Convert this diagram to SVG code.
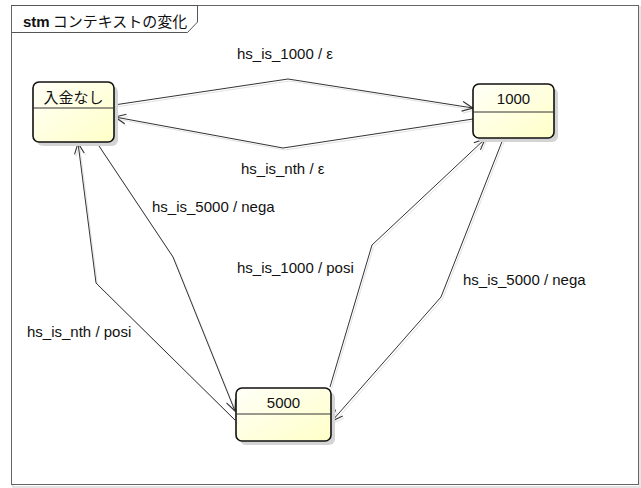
<svg xmlns="http://www.w3.org/2000/svg" width="641" height="488" viewBox="0 0 641 488">
<style>
.lbl{font-family:"Liberation Sans",Arial,sans-serif;font-size:15px;fill:#111}
.ntxt{font-family:"Liberation Sans","Noto Sans CJK JP",sans-serif;font-size:15px;fill:#111;text-anchor:middle}
.box{fill:url(#g);stroke:#111;stroke-width:1.6}
.shadow{fill:#d4d4d4}
.div{stroke:#333;stroke-width:1}
.edge{fill:none;stroke:#333;stroke-width:1}
.eshadow{fill:none;stroke:#e2e2e2;stroke-width:1}
</style>
<defs>
<linearGradient id="g" x1="0" y1="0" x2="1" y2="1">
<stop offset="0" stop-color="#fffff8"/>
<stop offset="1" stop-color="#ffffc8"/>
</linearGradient>
<marker id="arr" markerUnits="userSpaceOnUse" markerWidth="14" markerHeight="14" viewBox="-11 -6 13 12" refX="0" refY="0" orient="auto">
<path d="M-10,-4.5 L0,0 L-10,4.5" fill="none" stroke="#333" stroke-width="1"/>
</marker>
<marker id="arrs" markerUnits="userSpaceOnUse" markerWidth="14" markerHeight="14" viewBox="-11 -6 13 12" refX="0" refY="0" orient="auto">
<path d="M-10,-4.5 L0,0 L-10,4.5" fill="none" stroke="#e2e2e2" stroke-width="1"/>
</marker>
</defs>
<rect x="0" y="0" width="641" height="488" fill="#fff"/>
<g id="frame">
<rect x="13" y="7" width="627" height="480" fill="none" stroke="#ddd" stroke-width="1.5"/>
<rect x="11.5" y="5.5" width="627" height="479" fill="#fff" stroke="#666" stroke-width="1"/>
<path d="M11.5,5.5 H197.5 V22 L187.5,32.5 H11.5" fill="none" stroke="#555" stroke-width="1"/>
<text x="23" y="27" font-family="'Liberation Sans','Noto Sans CJK JP',sans-serif" font-size="15" fill="#111"><tspan font-weight="bold">stm</tspan><tspan dx="3" font-family="'Noto Sans CJK JP',sans-serif">コンテキストの変化</tspan></text>
</g>
<g id="connectors">
<g transform="translate(1.5,2)">
<polyline class="eshadow" points="114,105 288,79 473,108" marker-end="url(#arrs)"/>
<polyline class="eshadow" points="473,119 283,148 115,117" marker-end="url(#arrs)"/>
<polyline class="eshadow" points="97,143 173,257 235,411" marker-end="url(#arrs)"/>
<polyline class="eshadow" points="235,420 96,283 78,143" marker-end="url(#arrs)"/>
<polyline class="eshadow" points="330,387 372,245 485,139" marker-end="url(#arrs)"/>
<polyline class="eshadow" points="503,139 441,297 332,421" marker-end="url(#arrs)"/>
</g>
<polyline class="edge" points="114,105 288,79 473,108" marker-end="url(#arr)"/>
<polyline class="edge" points="473,119 283,148 115,117" marker-end="url(#arr)"/>
<polyline class="edge" points="97,143 173,257 235,411" marker-end="url(#arr)"/>
<polyline class="edge" points="235,420 96,283 78,143" marker-end="url(#arr)"/>
<polyline class="edge" points="330,387 372,245 485,139" marker-end="url(#arr)"/>
<polyline class="edge" points="503,139 441,297 332,421" marker-end="url(#arr)"/>
<text class="lbl" x="237" y="59">hs_is_1000 / ε</text>
<text class="lbl" x="241" y="174">hs_is_nth / ε</text>
<text class="lbl" x="152" y="212">hs_is_5000 / nega</text>
<text class="lbl" x="237" y="273">hs_is_1000 / posi</text>
<text class="lbl" x="463" y="285">hs_is_5000 / nega</text>
<text class="lbl" x="27" y="337">hs_is_nth / posi</text>
</g>
<g id="node-nyukin-nashi">
<rect class="shadow" x="37" y="86" width="81" height="60" rx="6"/>
<rect class="box" x="33" y="82" width="81" height="60" rx="6"/>
<line class="div" x1="33" y1="108" x2="114" y2="108"/>
<text class="ntxt" x="73.5" y="103" font-family="'Noto Sans CJK JP',sans-serif">入金なし</text>
</g>
<g id="node-1000">
<rect class="shadow" x="477" y="88" width="81" height="54" rx="6"/>
<rect class="box" x="473" y="84" width="81" height="54" rx="6"/>
<line class="div" x1="473" y1="112" x2="554" y2="112"/>
<text class="ntxt" x="513.5" y="104">1000</text>
</g>
<g id="node-5000">
<rect class="shadow" x="240" y="392" width="95" height="53" rx="6"/>
<rect class="box" x="236" y="388" width="95" height="53" rx="6"/>
<line class="div" x1="236" y1="414" x2="331" y2="414"/>
<text class="ntxt" x="283.5" y="408">5000</text>
</g>
</svg>
